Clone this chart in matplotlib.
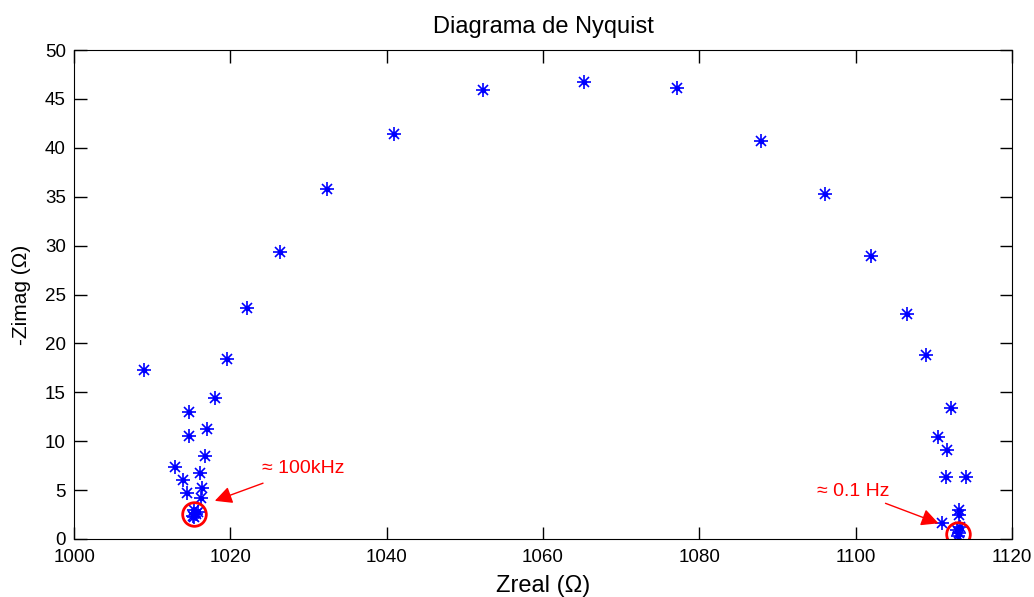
import matplotlib.pyplot as plt

plt.rcParams['font.family'] = ['Liberation Sans', 'DejaVu Sans']

# pontos (Zreal, -Zimag)
zreal = [1015.2, 1015.6, 1015.4, 1015.8, 1015.3, 1016.2, 1014.5, 1016.3, 1013.9,
         1016.1, 1012.9, 1016.7, 1014.7, 1017.0, 1014.7, 1018.0, 1009.0, 1019.6,
         1022.1, 1026.4, 1032.3, 1040.9, 1052.3, 1065.2, 1077.2, 1087.9, 1096.1,
         1102.0, 1106.6, 1109.0, 1112.2, 1110.5, 1111.7, 1111.5, 1114.1, 1113.2,
         1113.2, 1111.1, 1113.3, 1113.0, 1113.2, 1113.1]
zimag = [2.4, 2.6, 3.0, 2.8, 2.2, 4.2, 4.7, 5.2, 6.0,
         6.7, 7.4, 8.5, 10.5, 11.2, 13.0, 14.4, 17.3, 18.4,
         23.6, 29.3, 35.8, 41.4, 45.9, 46.7, 46.1, 40.7, 35.3,
         28.9, 23.0, 18.8, 13.4, 10.4, 9.1, 6.3, 6.3, 3.0,
         2.5, 1.6, 1.2, 0.9, 0.6, 0.3]

circ_x = [1015.4, 1113.1]
circ_y = [2.6, 0.5]

rotulos = ['\u2248 100kHz', '\u2248 0.1 Hz']
rot_xy = [(1024.0, 7.2), (1104.3, 4.9)]
seta_xy = [(1018.0, 3.9), (1110.6, 1.6)]

fig = plt.figure(figsize=(10.34, 5.97), dpi=100)
ax = fig.add_axes([0.0717, 0.0972, 0.9070, 0.8190])

ax.plot(zreal, zimag, ls='none', marker='+', ms=10, mew=1.2, color='blue')
ax.plot(zreal, zimag, ls='none', marker='x', ms=6.5, mew=1.2, color='blue')
ax.plot(zreal, zimag, ls='none', marker='o', ms=3, color='blue')
ax.plot(circ_x, circ_y, ls='none', marker='o', ms=17, mfc='none', mec='red', mew=2)

ax.annotate(rotulos[0], xy=seta_xy[0], xytext=rot_xy[0], color='red', fontsize=14,
            ha='left', va='center',
            arrowprops=dict(arrowstyle='-|>', color='red', lw=1, mutation_scale=26,
                            shrinkA=7, shrinkB=0))
ax.annotate(rotulos[1], xy=seta_xy[1], xytext=rot_xy[1], color='red', fontsize=14,
            ha='right', va='center',
            arrowprops=dict(arrowstyle='-|>', color='red', lw=1, mutation_scale=26,
                            shrinkA=2, shrinkB=0))

ax.set_xlim(1000, 1120)
ax.set_ylim(0, 50)
ax.set_xticks(range(1000, 1121, 20))
ax.set_yticks(range(0, 51, 5))
ax.tick_params(direction='in', length=9, top=True, right=True, labelsize=13.5, width=1)
ax.tick_params(axis='x', pad=7)
ax.tick_params(axis='y', pad=6)
ax.set_title('Diagrama de Nyquist', fontsize=17, pad=12)
ax.set_xlabel('Zreal (\u03a9)', fontsize=17, labelpad=7)
ax.set_ylabel('-Zimag (\u03a9)', fontsize=15, labelpad=10)

plt.savefig('out.png', dpi=100)
